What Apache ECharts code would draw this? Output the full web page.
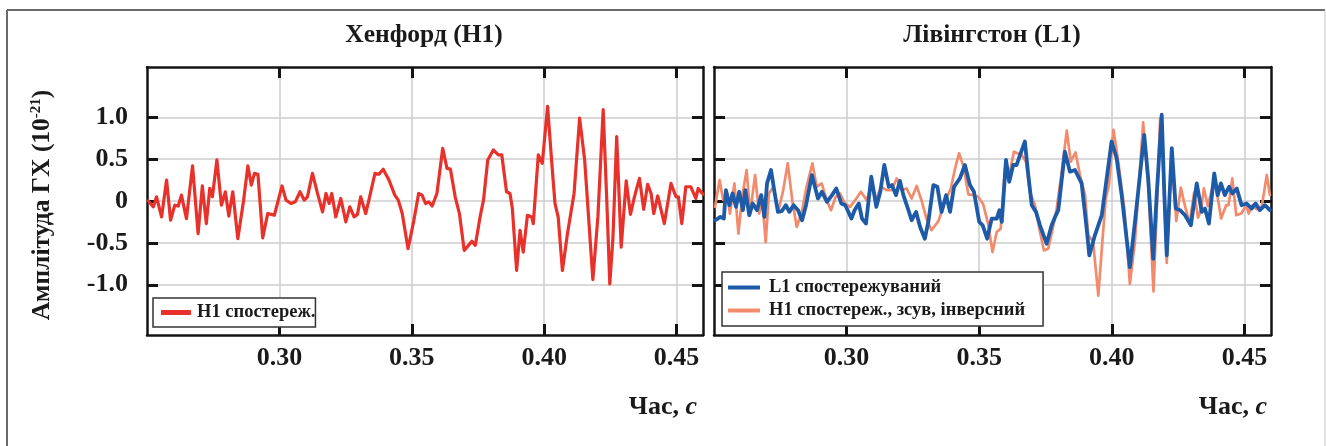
<!DOCTYPE html>
<html>
<head>
<meta charset="utf-8">
<script src="https://cdn.jsdelivr.net/npm/echarts@6/dist/echarts.min.js"></script>
<style>
  html, body { margin: 0; padding: 0; background: #fff; }
  #chart { width: 1326px; height: 446px; }
</style>
</head>
<body>
<div id="chart"></div>
<script>
// Gravitational-wave strain, Hanford (H1) and Livingston (L1) detectors
const panelTitles = ['Хенфорд (H1)', 'Лівінгстон (L1)'];
const seriesNames = ['H1 спостереж.', 'L1 спостережуваний', 'H1 спостереж., зсув, інверсний'];
const xTicks = [0.30, 0.35, 0.40, 0.45];
const yTicks = [-1.0, -0.5, 0, 0.5, 1.0];

// Hanford observed strain (10^-21) vs time (s)
const h1Time = [0.2505, 0.2524, 0.2536, 0.2555, 0.2574, 0.2589, 0.2605, 0.2618, 0.2630, 0.2649,
  0.2672, 0.2693, 0.2709, 0.2724, 0.2737, 0.2747, 0.2764, 0.2781, 0.2796, 0.2809,
  0.2824, 0.2843, 0.2865, 0.2881, 0.2894, 0.2906, 0.2919, 0.2937, 0.2956, 0.2969,
  0.2981, 0.3010, 0.3025, 0.3044, 0.3060, 0.3078, 0.3094, 0.3106, 0.3125, 0.3144,
  0.3163, 0.3176, 0.3188, 0.3198, 0.3213, 0.3232, 0.3251, 0.3266, 0.3282, 0.3295,
  0.3307, 0.3326, 0.3338, 0.3361, 0.3376, 0.3392, 0.3414, 0.3436, 0.3449, 0.3464,
  0.3486, 0.3508, 0.3526, 0.3539, 0.3552, 0.3564, 0.3577, 0.3595, 0.3617, 0.3633,
  0.3646, 0.3664, 0.3680, 0.3698, 0.3714, 0.3727, 0.3740, 0.3758, 0.3771, 0.3787,
  0.3808, 0.3827, 0.3840, 0.3858, 0.3871, 0.3880, 0.3896, 0.3909, 0.3921, 0.3937,
  0.3953, 0.3959, 0.3978, 0.3993, 0.4013, 0.4028, 0.4041, 0.4053, 0.4069, 0.4088,
  0.4113, 0.4134, 0.4153, 0.4184, 0.4203, 0.4223, 0.4237, 0.4248, 0.4260, 0.4274,
  0.4291, 0.4310, 0.4326, 0.4341, 0.4360, 0.4376, 0.4391, 0.4404, 0.4414, 0.4429,
  0.4454, 0.4479, 0.4498, 0.4507, 0.4520, 0.4535, 0.4554, 0.4573, 0.4582, 0.4600];
const h1Strain = [0.00, -0.07, 0.05, -0.19, 0.25, -0.23, -0.05, -0.06, 0.07, -0.21,
  0.42, -0.39, 0.18, -0.27, 0.15, 0.05, 0.49, -0.05, 0.11, -0.18,
  0.11, -0.45, 0.01, 0.42, 0.19, 0.33, 0.32, -0.44, -0.15, -0.16,
  -0.17, 0.18, 0.01, -0.03, -0.01, 0.11, 0.01, 0.05, 0.33, 0.09,
  -0.13, 0.09, -0.03, 0.09, -0.19, 0.03, -0.25, -0.07, -0.19, -0.16,
  0.05, -0.15, 0.01, 0.33, 0.32, 0.38, 0.25, 0.07, 0.01, -0.15,
  -0.57, -0.23, 0.09, 0.07, -0.03, -0.01, -0.06, 0.09, 0.63, 0.39,
  0.38, 0.05, -0.15, -0.59, -0.53, -0.48, -0.53, -0.19, 0.01, 0.49,
  0.61, 0.55, 0.55, 0.11, 0.09, -0.09, -0.83, -0.35, -0.61, -0.17,
  -0.19, -0.27, 0.55, 0.45, 1.13, 0.49, -0.03, -0.19, -0.83, -0.39,
  0.09, 0.99, 0.49, -0.94, -0.19, 1.09, -0.03, -0.99, -0.43, 0.77,
  -0.55, 0.24, -0.16, 0.05, 0.27, -0.10, 0.20, 0.09, -0.15, 0.06,
  -0.27, 0.21, 0.05, 0.05, -0.27, 0.17, 0.17, 0.03, 0.15, 0.08];

// Livingston observed strain
const l1Time = [0.2505, 0.2524, 0.2537, 0.2545, 0.2558, 0.2570, 0.2583, 0.2595, 0.2609, 0.2618,
  0.2633, 0.2646, 0.2662, 0.2678, 0.2690, 0.2700, 0.2715, 0.2729, 0.2741, 0.2756,
  0.2771, 0.2784, 0.2800, 0.2817, 0.2832, 0.2847, 0.2869, 0.2892, 0.2907, 0.2926,
  0.2945, 0.2961, 0.2980, 0.2995, 0.3018, 0.3030, 0.3046, 0.3058, 0.3073, 0.3093,
  0.3112, 0.3127, 0.3142, 0.3159, 0.3171, 0.3186, 0.3201, 0.3214, 0.3233, 0.3245,
  0.3262, 0.3277, 0.3295, 0.3308, 0.3327, 0.3342, 0.3358, 0.3375, 0.3390, 0.3405,
  0.3427, 0.3446, 0.3465, 0.3480, 0.3500, 0.3513, 0.3530, 0.3547, 0.3566, 0.3576,
  0.3585, 0.3601, 0.3613, 0.3628, 0.3641, 0.3654, 0.3672, 0.3685, 0.3698, 0.3714,
  0.3729, 0.3754, 0.3773, 0.3786, 0.3798, 0.3823, 0.3842, 0.3861, 0.3886, 0.3905,
  0.3915, 0.3936, 0.3962, 0.3999, 0.4018, 0.4037, 0.4068, 0.4087, 0.4122, 0.4137,
  0.4156, 0.4169, 0.4188, 0.4198, 0.4207, 0.4226, 0.4241, 0.4257, 0.4276, 0.4298,
  0.4320, 0.4339, 0.4351, 0.4366, 0.4386, 0.4399, 0.4411, 0.4426, 0.4442, 0.4454,
  0.4471, 0.4489, 0.4508, 0.4527, 0.4542, 0.4558, 0.4577, 0.4596];
const l1Strain = [-0.23, -0.19, -0.21, 0.13, -0.05, 0.09, -0.07, 0.11, -0.11, 0.13,
  -0.17, -0.03, -0.11, 0.07, -0.19, 0.21, 0.37, 0.09, -0.13, -0.12,
  -0.05, -0.13, -0.05, -0.11, -0.23, -0.05, 0.31, 0.03, 0.11, -0.01,
  0.07, 0.15, -0.03, -0.05, -0.21, -0.11, -0.03, -0.21, -0.27, 0.29,
  -0.07, 0.11, 0.43, 0.17, 0.19, 0.07, 0.24, 0.07, -0.11, -0.23,
  -0.13, -0.31, -0.45, -0.25, 0.19, 0.17, -0.13, 0.07, -0.13, 0.17,
  0.27, 0.43, 0.19, 0.11, -0.25, -0.29, -0.45, -0.21, -0.21, -0.11,
  -0.25, 0.49, 0.23, 0.43, 0.43, 0.55, 0.71, 0.31, -0.05, -0.13,
  -0.29, -0.51, -0.29, -0.19, -0.11, 0.59, 0.35, 0.37, 0.21, -0.33,
  -0.65, -0.41, -0.17, 0.71, 0.51, 0.07, -0.79, -0.25, 0.79, 0.27,
  -0.69, 0.07, 1.03, 0.07, -0.65, 0.63, -0.09, -0.11, -0.17, -0.29,
  0.21, -0.13, -0.09, -0.27, 0.33, 0.07, 0.21, 0.07, 0.17, 0.09,
  0.15, -0.05, -0.03, -0.09, -0.03, -0.11, -0.05, -0.11];

// Hanford strain, time-shifted and sign-inverted
const h1ShiftTime = [0.2504, 0.2521, 0.2535, 0.2548, 0.2560, 0.2577, 0.2592, 0.2607, 0.2623, 0.2636,
  0.2655, 0.2670, 0.2682, 0.2695, 0.2707, 0.2724, 0.2742, 0.2761, 0.2778, 0.2795,
  0.2812, 0.2831, 0.2849, 0.2871, 0.2887, 0.2906, 0.2925, 0.2941, 0.2959, 0.2975,
  0.2994, 0.3013, 0.3032, 0.3054, 0.3076, 0.3095, 0.3110, 0.3130, 0.3151, 0.3170,
  0.3189, 0.3208, 0.3226, 0.3245, 0.3264, 0.3283, 0.3302, 0.3320, 0.3346, 0.3367,
  0.3393, 0.3409, 0.3424, 0.3440, 0.3459, 0.3478, 0.3496, 0.3515, 0.3534, 0.3550,
  0.3566, 0.3581, 0.3597, 0.3613, 0.3631, 0.3643, 0.3660, 0.3676, 0.3691, 0.3710,
  0.3729, 0.3744, 0.3760, 0.3777, 0.3792, 0.3811, 0.3830, 0.3845, 0.3863, 0.3880,
  0.3899, 0.3911, 0.3929, 0.3949, 0.3964, 0.3977, 0.3989, 0.4006, 0.4025, 0.4047,
  0.4068, 0.4087, 0.4118, 0.4137, 0.4157, 0.4171, 0.4182, 0.4193, 0.4207, 0.4225,
  0.4243, 0.4260, 0.4275, 0.4293, 0.4310, 0.4325, 0.4337, 0.4347, 0.4362, 0.4387,
  0.4412, 0.4431, 0.4440, 0.4454, 0.4469, 0.4488, 0.4507, 0.4516, 0.4530, 0.4546,
  0.4565, 0.4584, 0.4596];
const h1ShiftStrain = [-0.07, 0.25, 0.01, 0.11, -0.15, 0.21, -0.39, 0.07, 0.37, -0.15,
  0.31, -0.15, 0.01, -0.49, 0.09, 0.17, -0.13, 0.13, 0.45, 0.01,
  -0.31, -0.13, 0.17, 0.45, 0.17, 0.21, 0.01, -0.11, 0.05, 0.09,
  -0.03, -0.07, 0.01, 0.11, 0.01, 0.21, 0.01, 0.17, 0.13, 0.13,
  0.27, 0.13, 0.15, 0.03, 0.18, 0.00, -0.22, -0.35, -0.24, -0.04,
  0.15, 0.39, 0.57, 0.42, 0.08, 0.07, 0.05, -0.04, -0.28, -0.61,
  -0.37, -0.33, 0.39, 0.31, 0.59, 0.57, 0.55, 0.47, 0.11, -0.05,
  -0.37, -0.59, -0.57, -0.33, -0.09, 0.35, 0.84, 0.47, 0.58, 0.31,
  0.07, -0.41, -0.48, -1.13, -0.49, 0.03, 0.19, 0.85, 0.45, -0.09,
  -0.99, -0.49, 0.94, 0.19, -1.08, 0.03, 0.99, 0.43, -0.74, 0.55,
  -0.24, 0.16, -0.05, -0.27, 0.10, -0.20, -0.09, 0.15, -0.06, 0.27,
  -0.21, -0.05, -0.05, 0.27, -0.17, -0.15, -0.05, -0.15, -0.05, -0.10,
  -0.07, 0.31, 0.07];

const SERIF = '"Liberation Serif", "DejaVu Serif", serif';
const pairs = (xs, ys) => xs.map((x, i) => [x, ys[i]]);

const chart = echarts.init(document.getElementById('chart'), null, { renderer: 'canvas' });

const grids = [
  { left: 147, top: 67, width: 556, height: 268 },
  { left: 714, top: 67, width: 557, height: 268 }
];

const axisLine = { show: true, onZero: false, lineStyle: { color: '#141414', width: 2.5 } };
const tickStyle = (vals) => ({
  show: true, inside: true, length: 11, customValues: vals,
  lineStyle: { color: '#141414', width: 3 }
});
const gridLine = { show: true, lineStyle: { color: '#cccccc', width: 1.5 } };

function xAxisFor(gridIndex, position, withLabels) {
  return {
    type: 'value', gridIndex, position, min: 0.25, max: 0.46,
    axisLine, axisTick: tickStyle(xTicks),
    axisLabel: {
      show: withLabels, customValues: xTicks, margin: 10,
      formatter: v => v.toFixed(2),
      fontFamily: SERIF, fontWeight: 'bold', fontSize: 26, color: '#1a1a1a'
    },
    splitLine: withLabels ? gridLine : { show: false }
  };
}
function yAxisFor(gridIndex, position, withLabels, withGrid) {
  return {
    type: 'value', gridIndex, position, min: -1.6, max: 1.6,
    axisLine, axisTick: tickStyle(yTicks),
    axisLabel: {
      show: withLabels, customValues: yTicks, margin: 19,
      formatter: v => (v === 0 ? '0' : v.toFixed(1)),
      fontFamily: SERIF, fontWeight: 'bold', fontSize: 26, color: '#1a1a1a'
    },
    splitLine: withGrid ? gridLine : { show: false }
  };
}

const legendFont = { fontFamily: SERIF, fontWeight: 'bold', fontSize: 18.5, color: '#1a1a1a' };

const option = {
  backgroundColor: '#ffffff',
  animation: false,
  grid: grids,
  xAxis: [
    xAxisFor(0, 'bottom', true), xAxisFor(0, 'top', false),
    xAxisFor(1, 'bottom', true), xAxisFor(1, 'top', false)
  ],
  yAxis: [
    yAxisFor(0, 'left', true, true), yAxisFor(0, 'right', false, false),
    yAxisFor(1, 'left', false, true), yAxisFor(1, 'right', false, false)
  ],
  legend: [
    {
      data: [seriesNames[0]], orient: 'vertical', left: 153, top: 298,
      padding: [5, 0, 5, 8], itemWidth: 30, itemHeight: 5, icon: 'rect',
      backgroundColor: '#fff', borderColor: '#333', borderWidth: 1.5, borderRadius: 0,
      textStyle: Object.assign({ padding: [0, 0, 0, 1] }, legendFont)
    },
    {
      data: [seriesNames[1], seriesNames[2]], orient: 'vertical', left: 722, top: 272,
      padding: [6, 18, 6, 6], itemGap: 4, itemWidth: 32, itemHeight: 4, icon: 'rect',
      backgroundColor: '#fff', borderColor: '#333', borderWidth: 1.5, borderRadius: 0,
      textStyle: Object.assign({ padding: [0, 0, 0, 4] }, legendFont)
    }
  ],
  series: [
    {
      name: seriesNames[0], type: 'line', xAxisIndex: 0, yAxisIndex: 0,
      data: pairs(h1Time, h1Strain), showSymbol: false, symbol: 'none',
      color: '#e8312a', lineStyle: { color: '#e8312a', width: 3.2, join: 'round', cap: 'round' }, z: 3
    },
    {
      name: seriesNames[2], type: 'line', xAxisIndex: 2, yAxisIndex: 2,
      data: pairs(h1ShiftTime, h1ShiftStrain), showSymbol: false, symbol: 'none',
      color: '#f28a6c', lineStyle: { color: '#f28a6c', width: 2.7, join: 'round', cap: 'round' }, z: 3
    },
    {
      name: seriesNames[1], type: 'line', xAxisIndex: 2, yAxisIndex: 2,
      data: pairs(l1Time, l1Strain), showSymbol: false, symbol: 'none',
      color: '#1d5ba9', lineStyle: { color: '#1d5ba9', width: 3.8, join: 'round', cap: 'round' }, z: 4
    }
  ],
  graphic: [
    // outer frame
    { type: 'line', shape: { x1: 7, y1: 10, x2: 1325, y2: 10 }, style: { stroke: '#6a6a6a', lineWidth: 2 }, silent: true },
    { type: 'line', shape: { x1: 7, y1: 10, x2: 7, y2: 446 }, style: { stroke: '#6a6a6a', lineWidth: 2 }, silent: true },
    { type: 'line', shape: { x1: 1325, y1: 10, x2: 1325, y2: 446 }, style: { stroke: '#c4c4c4', lineWidth: 1 }, silent: true },
    // panel titles
    {
      type: 'text', x: 424, y: 35,
      style: { text: panelTitles[0], align: 'center', verticalAlign: 'middle',
        font: 'bold 25.5px ' + SERIF, fill: '#1a1a1a' }
    },
    {
      type: 'text', x: 992, y: 35,
      style: { text: panelTitles[1], align: 'center', verticalAlign: 'middle',
        font: 'bold 25.5px ' + SERIF, fill: '#1a1a1a' }
    },
    // y-axis name with power-of-ten superscript
    {
      type: 'text', x: 42, y: 205, rotation: Math.PI / 2,
      style: {
        text: '{a|Амплітуда ГХ (10}{s|-21}{a|)}',
        align: 'center', verticalAlign: 'middle',
        rich: {
          a: { fontFamily: SERIF, fontWeight: 'bold', fontSize: 25.5, fill: '#1a1a1a', verticalAlign: 'bottom' },
          s: { fontFamily: SERIF, fontWeight: 'bold', fontSize: 15, fill: '#1a1a1a', verticalAlign: 'top' }
        }
      }
    },
    // x-axis names
    {
      type: 'text', x: 697, y: 407,
      style: {
        text: '{a|Час, }{i|с}', align: 'right', verticalAlign: 'middle',
        rich: {
          a: { fontFamily: SERIF, fontWeight: 'bold', fontSize: 26, fill: '#1a1a1a' },
          i: { fontFamily: SERIF, fontWeight: 'bold', fontStyle: 'italic', fontSize: 26, fill: '#1a1a1a' }
        }
      }
    },
    {
      type: 'text', x: 1267, y: 407,
      style: {
        text: '{a|Час, }{i|с}', align: 'right', verticalAlign: 'middle',
        rich: {
          a: { fontFamily: SERIF, fontWeight: 'bold', fontSize: 26, fill: '#1a1a1a' },
          i: { fontFamily: SERIF, fontWeight: 'bold', fontStyle: 'italic', fontSize: 26, fill: '#1a1a1a' }
        }
      }
    }
  ]
};

chart.setOption(option);
</script>
</body>
</html>
